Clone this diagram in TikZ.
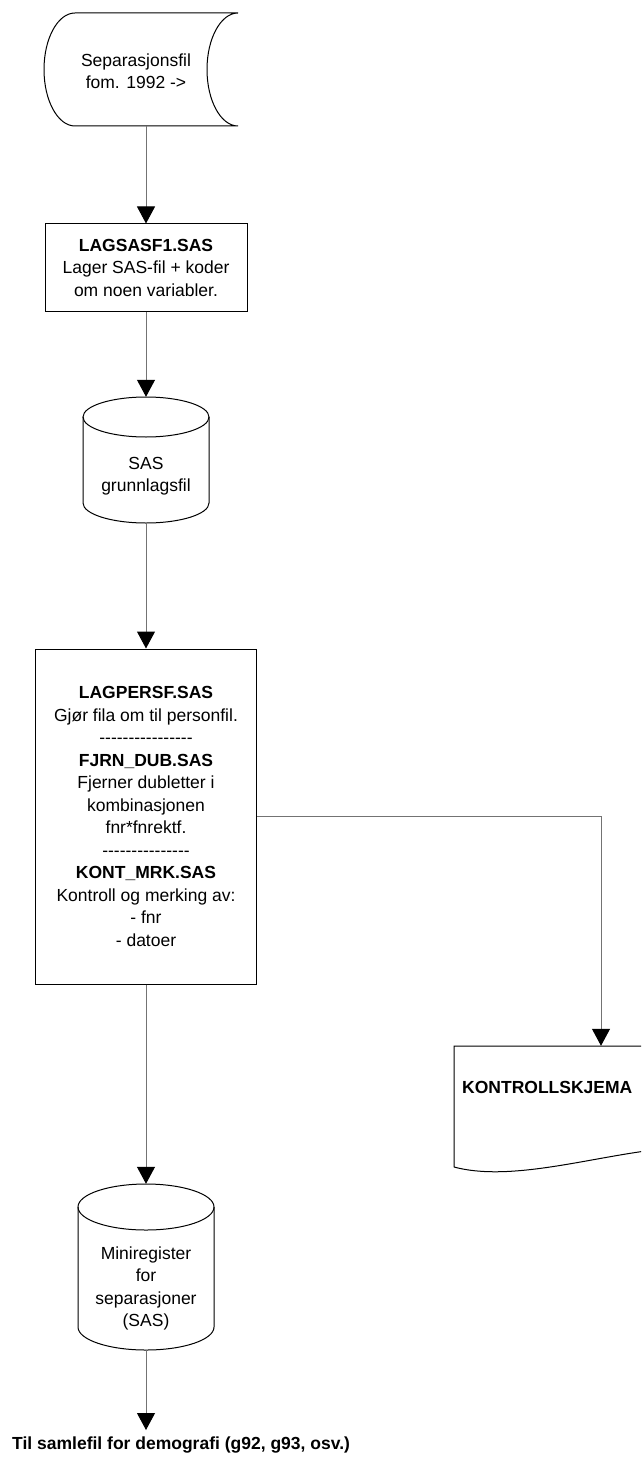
\documentclass[tikz,border=0pt]{standalone}
\usepackage{fontspec}
\setmainfont{Liberation Sans}
\usetikzlibrary{arrows.meta}

\newcommand\tekst{\fontsize{17.5}{22.5}\selectfont}
\newcommand\strek[1]{\foreach \n in {1,...,#1}{-\kern0pt}}

\begin{document}
\begin{tikzpicture}[x=1pt, y=-1pt,
    kant/.style={line width=1pt},
    boks/.style={draw, line width=1pt, align=center, font=\tekst},
    tom/.style={inner sep=0pt},
    tekstnode/.style={align=center, font=\tekst, inner sep=0pt},
    pil/.style={draw=black!55, line width=1pt, -{Triangle[length=17pt, width=18pt, color=black]}}]
        \useasboundingbox (0,0) rectangle (641,1463);
        \clip (0,0) rectangle (641,1463);
        % Separasjonsfil
        \node (sep) [tom, minimum width=184pt, minimum height=113pt] at (146,69.5) {};
        \node (sep-tekst) [tekstnode] at (136,71) {Separasjonsfil\\fom. 1992 ->};
        \draw [kant] (75,13) -- (238,13) arc [start angle=90, end angle=270, x radius=31pt, y radius=56.5pt]
            -- (75,126) arc [start angle=270, end angle=90, x radius=31pt, y radius=56.5pt] -- cycle;
        % LAGSASF1
        \node (lagsasf) [boks, minimum width=202pt, minimum height=87pt] at (146,267.5)
            {\textbf{LAGSASF1.SAS}\\Lager SAS-fil + koder\\om noen variabler.};
        % SAS grunnlagsfil
        \node (sas) [tom, minimum width=126pt, minimum height=126pt] at (146,460) {};
        \node (sas-tekst) [tekstnode] at (146,476) {SAS\\grunnlagsfil};
        \draw [kant] (146,417) ellipse [x radius=63pt, y radius=20pt];
        \draw [kant] (83,417) -- (83,503) arc [start angle=180, end angle=360, x radius=63pt, y radius=20pt] -- (209,417);
        % LAGPERSF, FJRN_DUB, KONT_MRK
        \node (lagpersf) [boks, minimum width=221pt, minimum height=335pt] at (146,816.5)
            {\textbf{LAGPERSF.SAS}\\Gjør fila om til personfil.\\\strek{16}\\
             \textbf{FJRN\_DUB.SAS}\\Fjerner dubletter i\\kombinasjonen\\fnr*fnrektf.\\\strek{15}\\
             \textbf{KONT\_MRK.SAS}\\Kontroll og merking av:\\- fnr\\- datoer};
        % Kontrollskjema
        \node (skjema) [tom, minimum width=294pt, minimum height=121pt] at (601,1106.5) {};
        \node (skjema-tekst) [tekstnode, anchor=west] at (462,1087.5) {\textbf{KONTROLLSKJEMA}};
        \draw [kant] (454,1167) -- (454,1046) -- (748,1046) -- (748,1160)
            .. controls (680,1120) and (540,1190) .. (454,1167);
        % Miniregister
        \node (mini) [tom, minimum width=136pt, minimum height=166pt] at (146,1267) {};
        \node (mini-tekst) [tekstnode] at (146,1288.5) {Miniregister\\for\\separasjoner\\(SAS)};
        \draw [kant] (146,1207) ellipse [x radius=68pt, y radius=23pt];
        \draw [kant] (78,1207) -- (78,1327) arc [start angle=180, end angle=360, x radius=68pt, y radius=23pt] -- (214,1207);
        % Til samlefil
        \coordinate (ut) at (146,1430);
        \node (samlefil) [tekstnode, anchor=west] at (12,1445) {\textbf{Til samlefil for demografi (g92, g93, osv.)}};
        % piler
        \draw [pil] (sep) -- (lagsasf);
        \draw [pil] (lagsasf) -- (sas);
        \draw [pil] (sas) -- (lagpersf);
        \draw [pil] (lagpersf.east) -| (skjema.north);
        \draw [pil] (lagpersf) -- (mini);
        \draw [pil] (mini) -- (ut);
    \end{tikzpicture}
\end{document}
